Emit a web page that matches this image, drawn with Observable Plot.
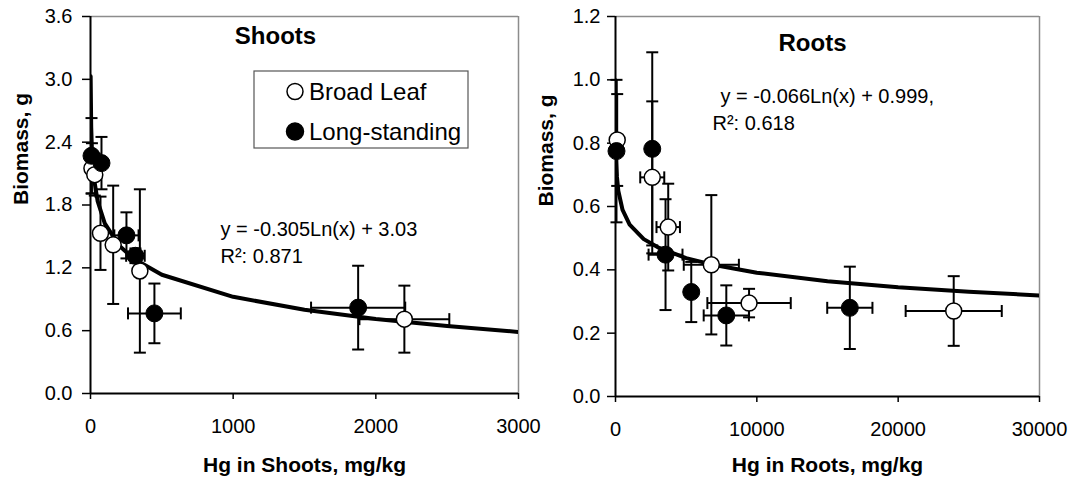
<!DOCTYPE html>
<html><head><meta charset="utf-8">
<script src="https://cdn.jsdelivr.net/npm/d3@7"></script>
<script src="https://cdn.jsdelivr.net/npm/@observablehq/plot@0.6"></script>
<style>
body{margin:0;background:#fff;width:1070px;height:477px;position:relative;overflow:hidden;font-family:"Liberation Sans",Arial,sans-serif;}
#left{position:absolute;left:0;top:0}
#right{position:absolute;left:535px;top:0}
svg{overflow:visible}
</style></head><body>
<div id="right"></div><div id="left"></div>
<script>
// ---------- data ----------
const seriesNames = ["Broad Leaf", "Long-standing"];

// Shoots panel
const shootsTitle = "Shoots";
const shootsXTicks = [0, 1000, 2000, 3000];
const shootsYTicks = [0, 0.6, 1.2, 1.8, 2.4, 3.0, 3.6];
const shootsBroadX  = [10, 30, 70, 159, 346, 2200];
const shootsBroadY  = [2.15, 2.09, 1.53, 1.42, 1.17, 0.71];
const shootsBroadEy = [0.24, 0.20, 0.35, 0.565, 0.78, 0.32];
const shootsBroadEx = [0, 0, 0, 0, 0, 315];
const shootsLongX  = [7, 77, 252, 315, 448, 1876];
const shootsLongY  = [2.27, 2.20, 1.51, 1.315, 0.765, 0.82];
const shootsLongEy = [0.36, 0.25, 0.22, 0.07, 0.285, 0.40];
const shootsLongEx = [0, 0, 85, 65, 185, 330];
const shootsFitX = [1, 5, 10, 25, 50, 100, 200, 300, 500, 1000, 1500, 2000, 2500, 3000];
const shootsFitY = [3.03, 2.539, 2.328, 2.048, 1.837, 1.625, 1.414, 1.290, 1.134, 0.923, 0.799, 0.712, 0.644, 0.588];
const shootsEq = ["y = -0.305Ln(x) + 3.03", "R\u00b2: 0.871"];
const shootsXLabel = "Hg in Shoots, mg/kg";

// Roots panel
const rootsTitle = "Roots";
const rootsXTicks = [0, 10000, 20000, 30000];
const rootsYTicks = [0, 0.2, 0.4, 0.6, 0.8, 1.0, 1.2];
const rootsBroadX  = [120, 2600, 3730, 6780, 9450, 23930];
const rootsBroadY  = [0.81, 0.692, 0.535, 0.416, 0.295, 0.27];
const rootsBroadEy = [0.145, 0.24, 0.137, 0.22, 0.045, 0.11];
const rootsBroadEx = [0, 850, 830, 1950, 2950, 3400];
const rootsLongX  = [70, 2600, 3540, 5360, 7840, 16580];
const rootsLongY  = [0.775, 0.782, 0.448, 0.33, 0.256, 0.28];
const rootsLongEy = [0.225, 0.305, 0.175, 0.095, 0.095, 0.13];
const rootsLongEx = [0, 0, 1200, 0, 1600, 1600];
const rootsFitX = [1, 10, 50, 100, 200, 500, 1000, 2000, 3000, 5000, 7000, 10000, 15000, 20000, 25000, 30000];
const rootsFitY = [0.999, 0.847, 0.741, 0.695, 0.649, 0.589, 0.543, 0.497, 0.471, 0.437, 0.415, 0.391, 0.364, 0.345, 0.331, 0.319];
const rootsEq = ["y = -0.066Ln(x) + 0.999,", "R\u00b2: 0.618"];
const rootsXLabel = "Hg in Roots, mg/kg";

const yLabel = "Biomass, g";

// ---------- helpers ----------
function rows(xs, ys, eys, exs) { return xs.map((x, i) => ({x, y: ys[i], ey: eys[i], ex: exs[i]})); }
const hcap = {draw(ctx, size) { const r = Math.sqrt(size / Math.PI); ctx.moveTo(-r, 0); ctx.lineTo(r, 0); }};
const vcap = {draw(ctx, size) { const r = Math.sqrt(size / Math.PI); ctx.moveTo(0, -r); ctx.lineTo(0, r); }};
const FONT = '"Liberation Sans", Arial, sans-serif';

function panel(o) {
  const open = rows(...o.open), filled = rows(...o.filled);
  const all = [...open, ...filled];
  const hx = all.filter(d => d.ex > 0);
  const curve = o.fitX.map((x, i) => ({x, y: o.fitY[i]}));
  const cap = {stroke: "#000", strokeWidth: 2, fill: "none", r: 6};
  return Plot.plot({
    width: o.width, height: 477,
    marginLeft: o.ml, marginRight: o.mr, marginTop: o.mt, marginBottom: o.mb,
    style: {fontFamily: FONT, fontSize: "20px", color: "#000", background: "transparent", overflow: "visible"},
    x: {domain: o.xDomain},
    y: {domain: o.yDomain},
    marks: [
      Plot.ruleY([o.yDomain[1]], {stroke: "#8c8c8c", strokeWidth: 1.5}),
      Plot.ruleX([o.xDomain[1]], {stroke: "#8c8c8c", strokeWidth: 1.5}),
      Plot.axisX({ticks: o.xTicks, tickSize: 6, tickPadding: 19, label: null, tickFormat: d => String(d), strokeWidth: 1.5, fontSize: 20}),
      Plot.axisY({ticks: o.yTicks, tickSize: 8, tickPadding: o.yPad, label: null, tickFormat: d => d.toFixed(1), strokeWidth: 1.5, fontSize: 20}),
      Plot.ruleX([o.xDomain[0]], {stroke: "#000", strokeWidth: 2}),
      Plot.ruleY([o.yDomain[0]], {stroke: "#000", strokeWidth: 2}),
      Plot.line(curve, {x: "x", y: "y", stroke: "#000", strokeWidth: 4, clip: true}),
      Plot.link(all, {x1: "x", x2: "x", y1: d => d.y - d.ey, y2: d => d.y + d.ey, stroke: "#000", strokeWidth: 2}),
      Plot.dot(all, {x: "x", y: d => d.y - d.ey, symbol: hcap, ...cap}),
      Plot.dot(all, {x: "x", y: d => d.y + d.ey, symbol: hcap, ...cap}),
      Plot.link(hx, {x1: d => Math.max(0, d.x - d.ex), x2: d => d.x + d.ex, y1: "y", y2: "y", stroke: "#000", strokeWidth: 2}),
      Plot.dot(hx, {x: d => Math.max(0, d.x - d.ex), y: "y", symbol: vcap, ...cap}),
      Plot.dot(hx, {x: d => d.x + d.ex, y: "y", symbol: vcap, ...cap}),
      Plot.dot(open, {x: "x", y: "y", r: 8, fill: "#fff", stroke: "#000", strokeWidth: 1.5}),
      Plot.dot(filled, {x: "x", y: "y", r: 8.5, fill: "#000", stroke: "#000", strokeWidth: 1}),
      Plot.text([o.title], {text: d => d, frameAnchor: "top-left", dx: o.titleDx, dy: o.titleDy, textAnchor: "middle", lineAnchor: "middle", fontWeight: "bold", fontSize: 24}),
      Plot.text([o.eq[0]], {text: d => d, frameAnchor: "top-left", dx: o.eqDx, dy: o.eqDy, textAnchor: "start", lineAnchor: "middle", fontSize: 20}),
      Plot.text([o.eq[1]], {text: d => d, frameAnchor: "top-left", dx: o.eqDx2, dy: o.eqDy + 27, textAnchor: "start", lineAnchor: "middle", fontSize: 20}),
      Plot.text([o.xLabel], {text: d => d, frameAnchor: "bottom", dy: o.xLabDy, lineAnchor: "middle", fontWeight: "bold", fontSize: 21}),
      Plot.text([yLabel], {text: d => d, frameAnchor: "left", dx: -69, rotate: -90, lineAnchor: "middle", fontWeight: "bold", fontSize: 21})
    ]
  });
}

const left = panel({
  width: 535, ml: 90, mr: 17, mt: 16, mb: 84,
  xDomain: [0, 3000], yDomain: [0, 3.6], xTicks: shootsXTicks, yTicks: shootsYTicks, yPad: 10,
  open: [shootsBroadX, shootsBroadY, shootsBroadEy, shootsBroadEx],
  filled: [shootsLongX, shootsLongY, shootsLongEy, shootsLongEx],
  fitX: shootsFitX, fitY: shootsFitY,
  title: shootsTitle, titleDx: 185, titleDy: 20,
  eq: shootsEq, eqDx: 130, eqDx2: 130, eqDy: 213,
  xLabel: shootsXLabel, xLabDy: 72
});
document.getElementById("left").appendChild(left);

const right = panel({
  width: 535, ml: 80, mr: 31, mt: 16, mb: 81,
  xDomain: [0, 30000], yDomain: [0, 1.2], xTicks: rootsXTicks, yTicks: rootsYTicks, yPad: 7,
  open: [rootsBroadX, rootsBroadY, rootsBroadEy, rootsBroadEx],
  filled: [rootsLongX, rootsLongY, rootsLongEy, rootsLongEx],
  fitX: rootsFitX, fitY: rootsFitY,
  title: rootsTitle, titleDx: 197, titleDy: 27,
  eq: rootsEq, eqDx: 105, eqDx2: 97, eqDy: 80,
  xLabel: rootsXLabel, xLabDy: 69
});
document.getElementById("right").appendChild(right);

// legend (inside the Shoots panel)
const lg = d3.select(left).append("g").attr("font-family", FONT).attr("font-size", 24).attr("text-anchor", "start");
lg.append("rect").attr("x", 254).attr("y", 71).attr("width", 214).attr("height", 77)
  .attr("fill", "#fff").attr("stroke", "#555").attr("stroke-width", 1.2);
seriesNames.forEach((name, i) => {
  const cy = 91.5 + i * 40;
  lg.append("circle").attr("cx", 295).attr("cy", cy).attr("r", i ? 8.5 : 8)
    .attr("fill", i ? "#000" : "#fff").attr("stroke", "#000").attr("stroke-width", 1.5);
  lg.append("text").attr("x", 309).attr("y", cy + 8.5).attr("fill", "#000").attr("text-anchor", "start").text(name);
});
</script>
</body></html>
